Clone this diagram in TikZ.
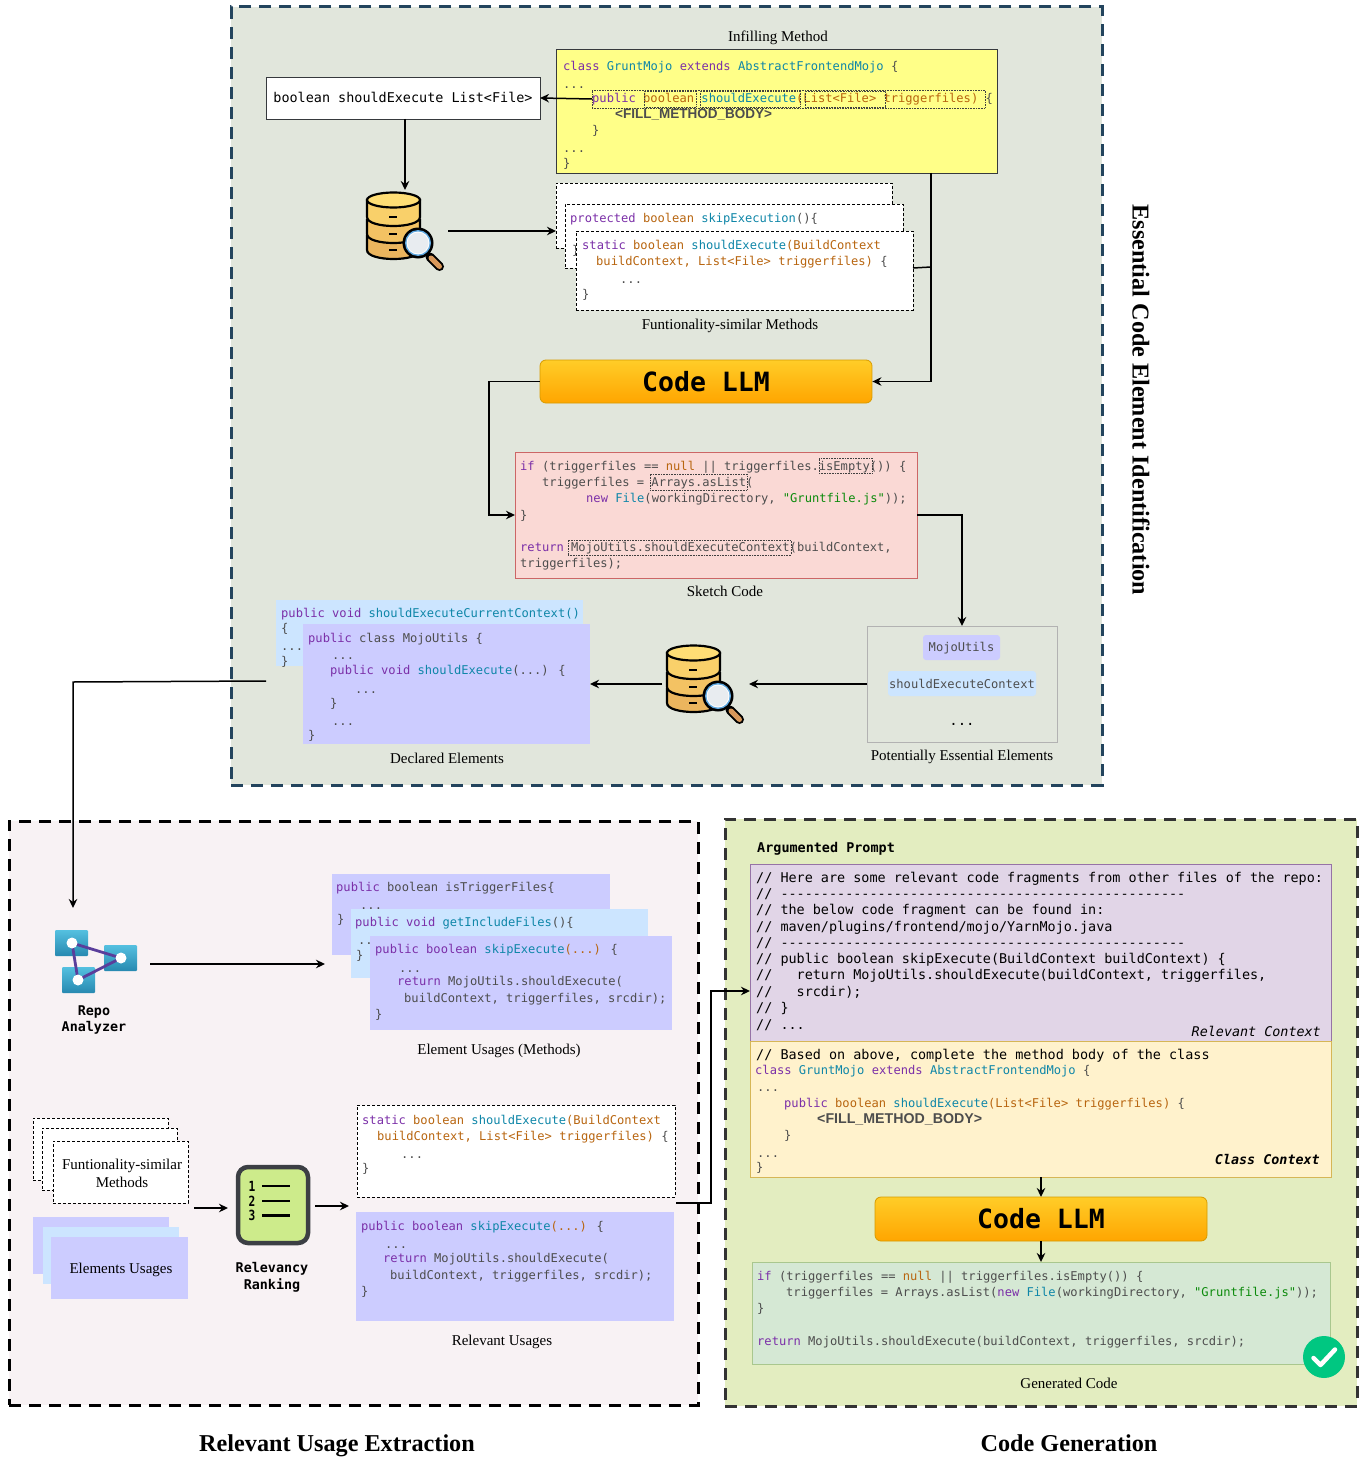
\documentclass[tikz,border=0pt]{standalone}
\usepackage{fontspec}
\setmainfont{Liberation Serif}
\newfontfamily\codefont{DejaVu Sans Mono}
\newfontfamily\fillfont{Liberation Sans}
\usetikzlibrary{arrows.meta,calc}
\definecolor{cpurple}{HTML}{7B2FA8}
\definecolor{corange}{HTML}{B8650F}
\definecolor{cteal}{HTML}{0E86A8}
\definecolor{cgreen}{HTML}{0B8A0B}
\definecolor{cgray}{HTML}{4D4D4D}
\definecolor{lilac}{HTML}{CCCCFF}
\definecolor{skyb}{HTML}{CCE5FF}
\definecolor{pantop}{HTML}{E1E6DC}
\definecolor{panleft}{HTML}{F8F2F4}
\definecolor{panright}{HTML}{E3EDC0}
\definecolor{navy}{HTML}{23445D}
\definecolor{yel}{HTML}{FFFF88}
\definecolor{yeld}{HTML}{36393D}
\definecolor{pinkf}{HTML}{FAD9D5}
\definecolor{pinkd}{HTML}{CC6666}
\definecolor{vf}{HTML}{E1D5E7}
\definecolor{vd}{HTML}{9673A6}
\definecolor{cf}{HTML}{FFF2CC}
\definecolor{cd}{HTML}{D6B656}
\definecolor{gf}{HTML}{D5E8D4}
\definecolor{gd}{HTML}{A9C78E}
\definecolor{llmt}{HTML}{FFCD28}
\definecolor{llmb}{HTML}{FFA500}
\definecolor{llmd}{HTML}{D79B00}
\definecolor{rankf}{HTML}{CDEB8B}
\definecolor{rankd}{HTML}{3C3F44}
\definecolor{okc}{HTML}{00C781}
\definecolor{dba}{HTML}{FFDE75}
\definecolor{dbb}{HTML}{F9D06A}
\definecolor{dbc}{HTML}{F3C263}
\definecolor{dbd}{HTML}{EBB55E}
\definecolor{lensb}{HTML}{5FA8E0}
\definecolor{lensf}{HTML}{E8ECF0}
\definecolor{hand}{HTML}{D9985A}
\definecolor{repot}{HTML}{55C0E0}
\definecolor{repob}{HTML}{2789B0}
\definecolor{repol}{HTML}{5A3E9B}
\newcommand\kw[1]{\textcolor{cpurple}{#1}}
\newcommand\ty[1]{\textcolor{corange}{#1}}
\newcommand\fn[1]{\textcolor{cteal}{#1}}
\newcommand\st[1]{\textcolor{cgreen}{#1}}
\newcounter{ln}
\tikzset{
  x=1pt,y=-1pt,
  code/.style={anchor=base west,inner sep=0pt,yshift=-4.6pt,text=cgray,font=\codefont\fontsize{12.1}{14}\selectfont},
  blk/.style={anchor=base west,inner sep=0pt,yshift=-5pt,text=black,font=\codefont\fontsize{13.45}{15}\selectfont},
  capt/.style={anchor=base,inner sep=0pt,yshift=-5pt,text=black,font=\fontsize{15}{17.5}\selectfont,align=center},
  lab/.style={inner sep=0pt,text=black,align=center,font=\codefont\bfseries\fontsize{13.4}{16.5}\selectfont},
  ttl/.style={anchor=base,inner sep=0pt,text=black,font=\bfseries\fontsize{24.2}{28}\selectfont},
  fillt/.style={anchor=base west,inner sep=0pt,yshift=-4.5pt,text=cgray,font=\fillfont\bfseries\fontsize{13.5}{15}\selectfont},
  arr/.style={draw=black,line width=1.5pt,-{Stealth[length=9pt,width=8.5pt]}},
  lin/.style={draw=black,line width=1.5pt},
  dotbox/.style={draw=black!75,line width=.6pt,densely dotted},
  whitedash/.style={draw=black,fill=white,line width=.7pt,densely dashed},
  llm/.style={draw=llmd,rounded corners=6pt,top color=llmt,bottom color=llmb,line width=.8pt,
    font=\codefont\bfseries\fontsize{26.5}{30}\selectfont,text=black}
}
\newcommand\bx[6]{\node[#2,name=#1,minimum width={(#5-#3)*1pt},minimum height={(#6-#4)*1pt},anchor=north west,inner sep=0pt,outer sep=0pt] at (#3,#4) {};}
\newcommand\cl[3]{\stepcounter{ln}\node[code,name=ln\theln] at (#1,#2) {#3};}
\newcommand\bl[3]{\stepcounter{ln}\node[blk,name=ln\theln] at (#1,#2) {#3};}
\newcommand\dbicon[2]{%
\begin{scope}[shift={(#1,#2)},line width=2.2pt]
  \filldraw[draw=black,fill=dbd] (367,236) -- (367,250) .. controls (367,262) and (420,262) .. (420,250) -- (420,236) -- cycle;
  \filldraw[draw=black,fill=dbc] (367,220) -- (367,234) .. controls (367,246) and (420,246) .. (420,234) -- (420,220) -- cycle;
  \filldraw[draw=black,fill=dbb] (367,200) -- (367,217) .. controls (367,229) and (420,229) .. (420,217) -- (420,200) -- cycle;
  \filldraw[draw=black,fill=dba] (393.5,200) ellipse[x radius=26.5,y radius=7.5];
  \draw[line width=2pt] (389,217) -- (397,217) (389,234) -- (397,234) (389,250) -- (397,250);
  \draw[line cap=round,line width=9pt,draw=black] (430,257) -- (439.5,266.5);
  \draw[line cap=round,line width=5pt,draw=hand] (431,258) -- (439.5,266.5);
  \fill[black] (418,243) circle[radius=15.5];
  \fill[lensb] (418,243) circle[radius=13];
  \fill[white] (418,243) circle[radius=11.5];
  \fill[lensf] (418,243) circle[radius=10.5];
\end{scope}}
\begin{document}
\begin{tikzpicture}
\useasboundingbox (0,0) rectangle (1365,1458);
% panels
\bx{ptop}{draw=navy,fill=pantop,line width=3pt,dash pattern=on 12pt off 8pt}{231}{7}{1102}{785}
\bx{pleft}{draw=black,fill=panleft,line width=3pt,dash pattern=on 12pt off 8pt}{9}{821}{698}{1405}
\bx{pright}{draw=black!80,fill=panright,line width=3pt,dash pattern=on 12pt off 8pt}{725}{819}{1357}{1406}
\node[ttl,rotate=-90,anchor=center] (t1) at (1141,400) {Essential Code Element Identification};
\node[ttl] (t2) at (337,1451) {Relevant Usage Extraction};
\node[ttl] (t3) at (1069,1451) {Code Generation};

% ---------- top panel ----------
\node[capt] (c1) at (778,37) {Infilling Method};
\bx{yelbox}{draw=yeld,fill=yel,line width=.8pt}{556}{49}{997}{173}
\cl{563}{66}{\kw{class} \fn{GruntMojo} \kw{extends} \fn{AbstractFrontendMojo} \{}
\cl{563}{84}{...}
\cl{592}{98}{\kw{public} \ty{boolean} \fn{shouldExecute}\ty{(List<File> triggerfiles)} \{}
\node[fillt] (f1) at (615,114) {<FILL\_METHOD\_BODY>};
\cl{592}{130}{\}}
\cl{563}{148}{...}
\cl{563}{163}{\}}
\bx{d1}{dotbox}{592}{90}{985}{108}
\bx{d2}{dotbox}{644}{91}{696}{107}
\bx{d3}{dotbox}{700}{91}{800}{107}
\bx{d4}{dotbox}{805}{91}{885}{107}
\bx{sig}{draw=yeld,fill=white,line width=.8pt}{266}{77}{540}{119}
\node[anchor=base,inner sep=0pt,yshift=-4.8pt,font=\codefont\fontsize{13.45}{15}\selectfont] (sigt) at (403,98) {boolean shouldExecute List<File>};
\draw[arr] (d1.west) -- (sig.east);
\coordinate (db1top) at (405,190);
\draw[arr] (405,119) -- (db1top);
\dbicon{0}{0}
\bx{fa}{whitedash}{556}{183}{892}{248}
\bx{fb}{whitedash}{565}{204}{903}{268}
\cl{570}{218}{\kw{protected} \ty{boolean} \fn{skipExecution}()\{}
\cl{572}{250}{\}}
\bx{fc}{whitedash}{576}{231}{913}{310}
\cl{582}{245}{\kw{static} \ty{boolean} \fn{shouldExecute}\ty{(BuildContext}}
\cl{596}{261}{\ty{buildContext, List<File> triggerfiles)} \{}
\cl{620}{279}{...}
\cl{582}{294}{\}}
\coordinate (db1out) at (448,231);
\draw[arr] (db1out) -- (fa.west |- db1out);
\node[capt] (c2) at (730,324) {Funtionality-similar Methods};
\node[llm,name=llm1,minimum width=332pt,minimum height=43pt,inner sep=0pt] at (706,381.5) {Code LLM};
\draw[arr] (931,173) -- (931,381.5) -- (llm1.east);
\draw[lin] (913,268) -- (931,267);
\bx{pink}{draw=pinkd,fill=pinkf,line width=.9pt}{515}{452}{917}{578}
\cl{520}{466}{\kw{if} (triggerfiles == \ty{null} || triggerfiles.isEmpty()) \{}
\cl{542}{482}{triggerfiles = Arrays.asList(}
\cl{586}{498}{\kw{new} \fn{File}(workingDirectory, \st{"Gruntfile.js"}));}
\cl{520}{515}{\}}
\cl{520}{547}{\kw{return} MojoUtils.shouldExecuteContext(buildContext,}
\cl{520}{563}{triggerfiles);}
\bx{d5}{dotbox}{819}{458}{872}{473}
\bx{d6}{dotbox}{650}{474}{747}{490}
\bx{d7}{dotbox}{568}{540}{791}{555}
\draw[arr] (llm1.west) -- (489,381.5) -- (489,515) -- (pink.west);
\node[capt] (c3) at (725,591) {Sketch Code};
\bx{pe}{draw=black!30,line width=.9pt}{867}{626}{1057}{742}
\draw[arr] (pink.east) -- (962,515) -- (pe.north);
\bx{pm}{fill=lilac,rounded corners=3pt}{923}{635}{1000}{660}
\bx{ps}{fill=skyb,rounded corners=3pt}{888}{671}{1036}{696}
\node[inner sep=0pt,text=cgray,yshift=-1pt,font=\codefont\fontsize{12.1}{14}\selectfont] (pmt) at (pm.center) {MojoUtils};
\node[inner sep=0pt,text=cgray,font=\codefont\fontsize{12.1}{14}\selectfont] (pst) at (ps.center) {shouldExecuteContext};
\node[inner sep=0pt,font=\codefont\fontsize{14}{15}\selectfont] (pd) at (962,724) {...};
\node[capt] (c4) at (962,755) {Potentially Essential Elements};
\dbicon{300}{453}
\coordinate (db2in) at (749,684);
\coordinate (db2out) at (662,684);
\draw[arr] (pe.west |- db2in) -- (db2in);
\bx{de1}{fill=skyb}{276}{600}{583}{666}
\cl{281}{613}{\kw{public} \kw{void} \fn{shouldExecuteCurrentContext()}}
\cl{281}{628}{\{}
\cl{281}{646}{...}
\cl{281}{661}{\}}
\bx{de2}{fill=lilac}{303}{624}{590}{744}
\cl{308}{638}{\kw{public} class MojoUtils \{}
\cl{332}{655}{...}
\cl{330}{670}{\kw{public} \kw{void} \fn{shouldExecute}(...) \{}
\cl{355}{689}{...}
\cl{330}{703}{\}}
\cl{332}{721}{...}
\cl{308}{735}{\}}
\draw[arr] (db2out) -- (de2.east |- db2out);
\node[capt] (c5) at (447,758) {Declared Elements};
\coordinate (decl) at (266,681);
\coordinate (repotop) at (73,908);
\draw[arr] (decl) -- (73,682) -- (repotop);

% ---------- left panel ----------
\foreach \n/\a/\b/\c/\d in {ra/55/930/88/956,rb/104/945/137/971,rc/62/967/95/993}{
  \bx{\n}{top color=repot,bottom color=repob,rounded corners=1pt}{\a}{\b}{\c}{\d}
}
\coordinate (ca) at (72,943);\coordinate (cb) at (121,958);\coordinate (cc) at (78,980);
\draw[line width=2.8pt,draw=repol,line join=round] (ca) -- (cb) -- (cc) -- cycle;
\foreach \p in {ca,cb,cc}{\fill[white] (\p) circle[radius=5.5];}
\node[lab] (repo) at (94,1020) {Repo\\Analyzer};
\bx{eu1}{fill=lilac}{332}{874}{610}{955}
\cl{336}{887}{\kw{public} boolean isTriggerFiles\{}
\cl{360}{905}{...}
\cl{337}{919}{\}}
\bx{eu2}{fill=skyb}{351}{909}{648}{978}
\cl{355}{922}{\kw{public} \kw{void} \fn{getIncludeFiles}()\{}
\cl{358}{940}{..}
\cl{356}{955}{\}}
\bx{eu3}{fill=lilac}{370}{936}{672}{1030}
\cl{375}{949}{\kw{public} \kw{boolean} \fn{skipExecute}\ty{(...)} \{}
\cl{399}{968}{...}
\cl{397}{981}{\kw{return} MojoUtils.shouldExecute(}
\cl{404}{998}{buildContext, triggerfiles, srcdir);}
\cl{375}{1014}{\}}
\coordinate (repoout) at (150,964);
\coordinate (euin) at (325,964);
\draw[arr] (repoout) -- (euin);
\node[capt] (c6) at (499,1049) {Element Usages (Methods)};

\bx{fs1}{whitedash}{33}{1118}{168}{1180}
\bx{fs2}{whitedash}{42}{1128}{177}{1190}
\bx{fs3}{whitedash}{53}{1141}{188}{1203}
\node[capt,anchor=center] (fst) at (122,1168.5) {Funtionality-similar\\Methods};
\bx{us1}{fill=lilac}{33}{1217}{169}{1274}
\bx{us2}{fill=skyb}{43}{1227}{179}{1284}
\bx{us3}{fill=lilac}{51}{1237}{188}{1299}
\node[capt] (ust) at (121,1268) {Elements Usages};
\bx{rank}{draw=rankd,fill=rankf,line width=4.5pt,rounded corners=10pt}{238}{1167}{308}{1243}
\foreach \yy/\nm in {1186/1,1201/2,1215.5/3}{
  \node[inner sep=0pt,font=\codefont\bfseries\fontsize{14}{14}\selectfont] (r\nm) at (252,\yy) {\scalebox{.8}[1]{\nm}};
  \draw[line width=2.6pt] (262,\yy) -- (290,\yy);
}
\node[lab] (rr) at (272,1277.5) {Relevancy\\Ranking};
\coordinate (rin) at (194,1208);
\coordinate (rout) at (315,1206);
\draw[arr] (rin) -- (228,1208);
\draw[arr] (rout) -- (349,1206);
\bx{ru1}{whitedash}{357}{1105}{675}{1197}
\cl{362}{1120}{\kw{static} \ty{boolean} \fn{shouldExecute}\ty{(BuildContext}}
\cl{377}{1136}{\ty{buildContext, List<File> triggerfiles)} \{}
\cl{401}{1154}{...}
\cl{362}{1168}{\}}
\bx{ru2}{fill=lilac}{356}{1212}{674}{1321}
\cl{361}{1226}{\kw{public} \kw{boolean} \fn{skipExecute}\ty{(...)} \{}
\cl{385}{1244}{...}
\cl{383}{1258}{\kw{return} MojoUtils.shouldExecute(}
\cl{390}{1275}{buildContext, triggerfiles, srcdir);}
\cl{361}{1291}{\}}
\node[capt] (c7) at (502,1340) {Relevant Usages};

% ---------- right panel ----------
\node[blk,font=\codefont\bfseries\fontsize{13.45}{15}\selectfont] (ap) at (757,847.5) {Argumented Prompt};
\bx{rc1}{draw=vd,fill=vf,line width=.9pt}{750}{864}{1331}{1041}
\bl{756}{877}{// Here are some relevant code fragments from other files of the repo:}
\bl{756}{893}{// --------------------------------------------------}
\bl{756}{909}{// the below code fragment can be found in:}
\bl{756}{926}{// maven/plugins/frontend/mojo/YarnMojo.java}
\bl{756}{942}{// --------------------------------------------------}
\bl{756}{958}{// public boolean skipExecute(BuildContext buildContext) \{}
\bl{756}{974}{//\ \ \ return MojoUtils.shouldExecute(buildContext, triggerfiles,}
\bl{756}{991}{//\ \ \ srcdir);}
\bl{756}{1007}{// \}}
\bl{756}{1024}{// ...}
\node[anchor=base east,inner sep=0pt,yshift=-4.8pt,font=\codefont\itshape\fontsize{13.4}{15}\selectfont] (rctx) at (1321,1032) {Relevant Context};
\bx{cc1}{draw=cd,fill=cf,line width=.9pt}{750}{1041}{1331}{1177}
\bl{756}{1054}{// Based on above, complete the method body of the class}
\cl{755}{1070}{\kw{class} \fn{GruntMojo} \kw{extends} \fn{AbstractFrontendMojo} \{}
\cl{757}{1087}{...}
\cl{784}{1103}{\kw{public} \ty{boolean} \fn{shouldExecute}\ty{(List<File> triggerfiles)} \{}
\node[fillt,font=\fillfont\bfseries\fontsize{14.2}{15}\selectfont] (f2) at (817,1119) {<FILL\_METHOD\_BODY>};
\cl{784}{1135}{\}}
\cl{757}{1153}{...}
\cl{756}{1167}{\}}
\node[anchor=base east,inner sep=0pt,yshift=-4.8pt,font=\codefont\bfseries\itshape\fontsize{13.4}{15}\selectfont] (cctx) at (1320,1160) {Class Context};
\draw[arr] (1041,1177) -- (1041,1197);
\node[llm,name=llm2,minimum width=332pt,minimum height=44pt,inner sep=0pt] at (1041,1219) {Code LLM};
\bx{gen}{draw=gd,fill=gf,line width=.9pt}{752}{1262}{1330}{1364}
\draw[arr] (llm2.south) -- (llm2.south |- gen.north);
\cl{757}{1276}{\kw{if} (triggerfiles == \ty{null} || triggerfiles.isEmpty()) \{}
\cl{786}{1292}{triggerfiles = Arrays.asList(\kw{new} \fn{File}(workingDirectory, \st{"Gruntfile.js"}));}
\cl{757}{1308}{\}}
\cl{757}{1341}{\kw{return} MojoUtils.shouldExecute(buildContext, triggerfiles, srcdir);}
\node[circle,fill=okc,minimum size=42pt,inner sep=0pt] (ok) at (1324,1357) {};
\draw[white,line width=4.5pt,line cap=round,line join=round] (1313.5,1358) -- (1320.5,1365) -- (1335,1349.5);
\node[capt] (c8) at (1069,1383) {Generated Code};
\coordinate (ruout) at (676,1203);
\draw[arr] (ruout) -- (711,1203) -- (711,991) -- (rc1.west |- 0,991);
\end{tikzpicture}
\end{document}
